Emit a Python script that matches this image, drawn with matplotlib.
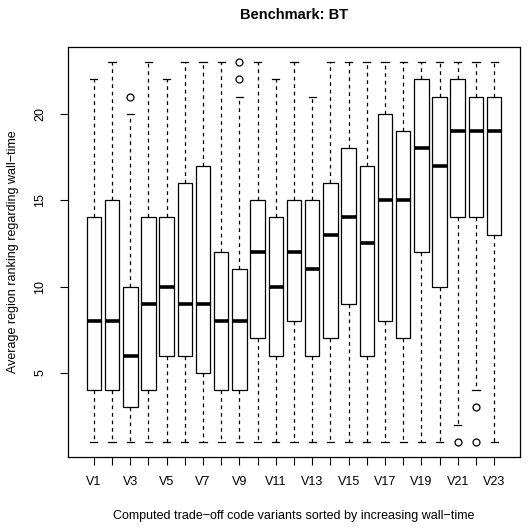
import matplotlib
matplotlib.use("Agg")
import matplotlib.pyplot as plt

plt.rcParams["font.family"] = ["Liberation Sans", "DejaVu Sans"]

variants = ["V%d" % i for i in range(1, 24)]
whisker_low = [1, 1, 1, 1, 1, 1, 1, 1, 1, 1, 1, 1, 1, 1, 1, 1, 1, 1, 1, 1, 2, 4, 1]
box_low = [4, 4, 3, 4, 6, 6, 5, 4, 4, 7, 6, 8, 6, 7, 9, 6, 8, 7, 12, 10, 14, 14, 13]
medians = [8, 8, 6, 9, 10, 9, 9, 8, 8, 12, 10, 12, 11, 13, 14, 12.5, 15, 15, 18, 17, 19, 19, 19]
box_high = [14, 15, 10, 14, 14, 16, 17, 12, 11, 15, 14, 15, 15, 16, 18, 17, 20, 19, 22, 21, 22, 21, 21]
whisker_high = [22, 23, 20, 23, 22, 23, 23, 23, 21, 23, 22, 23, 21, 23, 23, 23, 23, 23, 23, 23, 23, 23, 23]
outliers = [[], [], [21], [], [], [], [], [], [22, 23], [], [], [], [],
            [], [], [], [], [], [], [], [1], [1, 3], []]

stats = []
for i, name in enumerate(variants):
    stats.append({
        "label": name,
        "whislo": whisker_low[i],
        "q1": box_low[i],
        "med": medians[i],
        "q3": box_high[i],
        "whishi": whisker_high[i],
        "fliers": outliers[i],
    })

fig = plt.figure(figsize=(5.28, 5.31), dpi=100)
ax = fig.add_axes([68 / 528, 1 - 457 / 531, 452 / 528, 410 / 531])

positions = list(range(1, len(variants) + 1))
ax.bxp(
    stats,
    positions=positions,
    widths=0.8,
    patch_artist=True,
    boxprops=dict(facecolor="white", edgecolor="black", linewidth=0.9),
    medianprops=dict(color="black", linewidth=2.6, solid_capstyle="butt"),
    whiskerprops=dict(color="black", linewidth=0.9, linestyle=(0, (3, 3))),
    capprops=dict(color="black", linewidth=0.9),
    capwidths=0.4,
    flierprops=dict(marker="o", markersize=5, markerfacecolor="none",
                    markeredgecolor="black", markeredgewidth=0.9),
)

ax.set_xlim(-0.42, 24.42)
ax.set_ylim(0.12, 23.88)

ax.set_xticks(positions)
ax.set_xticklabels([v if i % 2 == 0 else "" for i, v in enumerate(variants)])
ax.set_yticks([5, 10, 15, 20])
ax.set_yticklabels(["5", "10", "15", "20"], rotation=90, va="center")

ax.tick_params(axis="both", direction="out", length=5.5, width=0.8,
               labelsize=9, pad=8)
ax.tick_params(axis="y", pad=10)
for s in ax.spines.values():
    s.set_linewidth(0.9)

ax.set_title("Benchmark: BT", fontsize=10.5, fontweight="bold", pad=20)
ax.set_xlabel("Computed trade\u2212off code variants sorted by increasing wall\u2212time",
              fontsize=9, labelpad=16)
ax.set_ylabel("Average region ranking regarding wall\u2212time", fontsize=9, labelpad=11)

fig.savefig("out.png", dpi=100)
